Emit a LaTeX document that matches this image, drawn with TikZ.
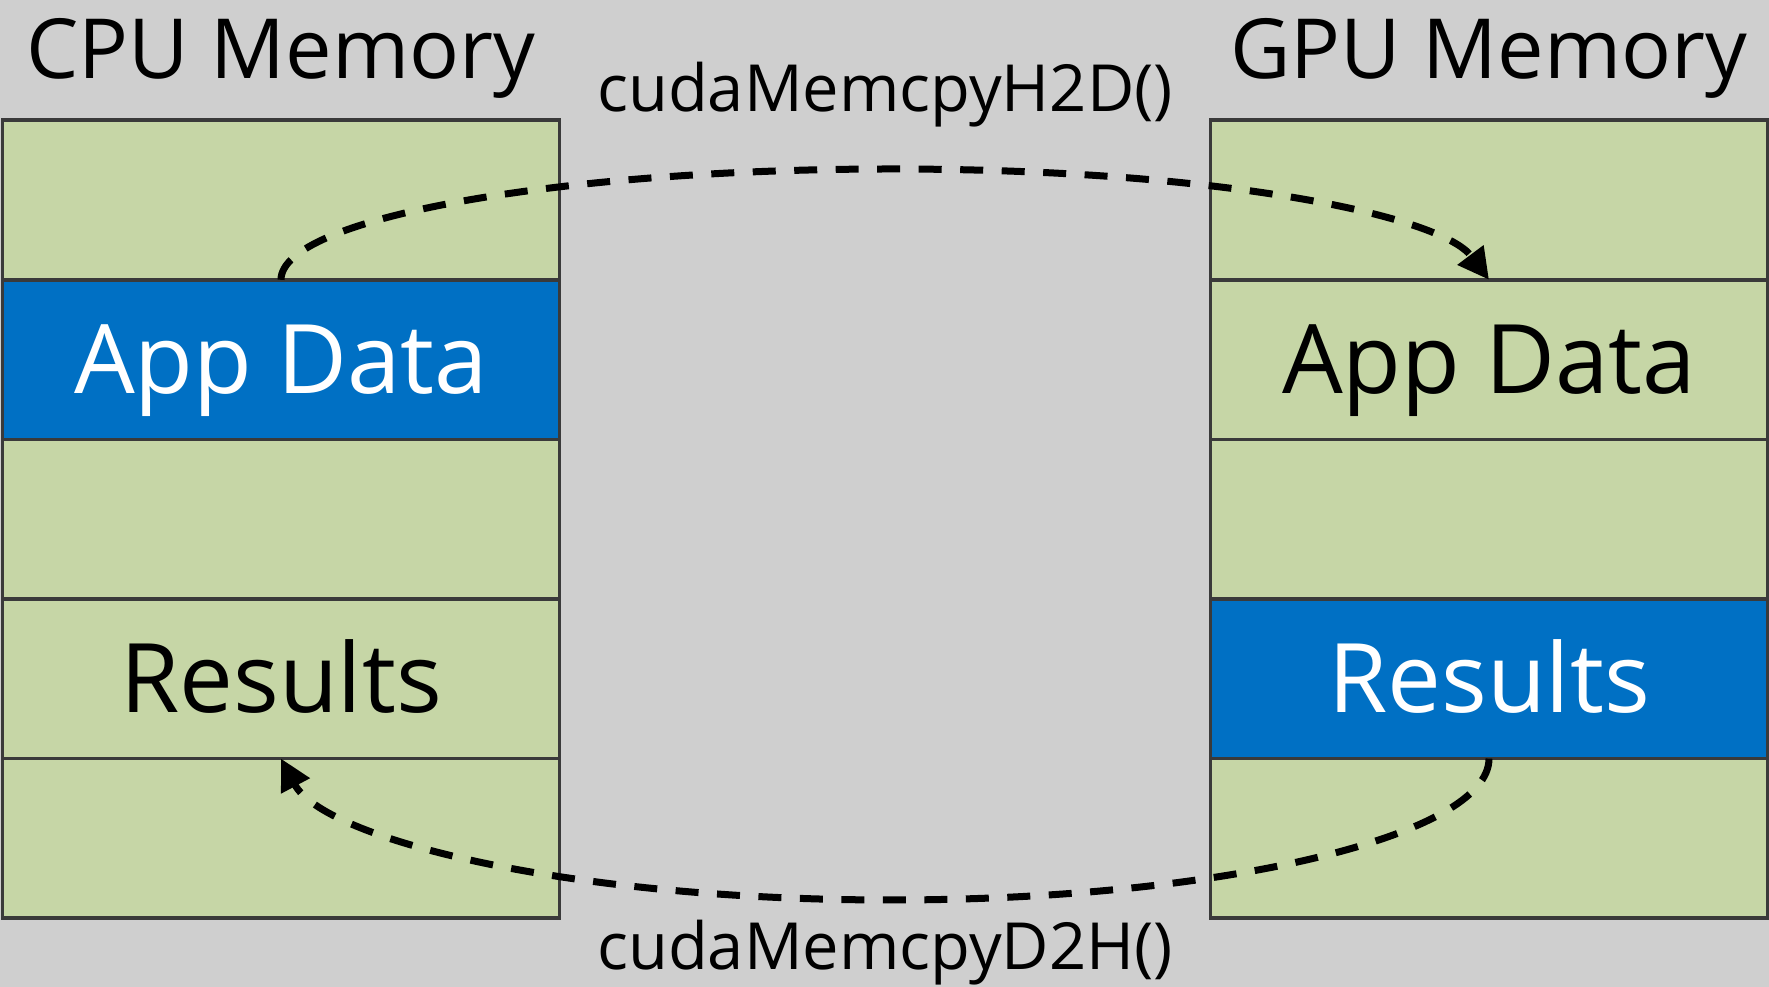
\documentclass[tikz,border=0pt]{standalone}
\usepackage{fontspec}
\setmainfont{Open Sans}
\usetikzlibrary{positioning,arrows.meta}
\definecolor{bggray}{HTML}{CFCFCF}
\definecolor{memgreen}{HTML}{C6D6A6}
\definecolor{appblue}{HTML}{0070C4}
\definecolor{edgegray}{HTML}{3A3A3A}
\begin{document}
\begin{tikzpicture}[x=1pt,y=1pt,
    cell/.style={draw=edgegray,line width=3.5pt,fill=memgreen,minimum width=557pt,minimum height=159.6pt,inner sep=0pt,outer sep=0pt,text height=68pt,text depth=0pt,font=\fontsize{96}{96}\selectfont},
    hot/.style={cell,fill=appblue,text=white},
    title/.style={font=\fontsize{83}{83}\selectfont,inner sep=0pt},
    call/.style={font=\fontsize{65}{65}\selectfont,inner sep=0pt},
    copy/.style={line width=7pt,dash pattern=on 23pt off 18.5pt,-{Triangle[length=31pt,width=31pt]}}]
    \fill[bggray] (0,0) rectangle (1769,987);
    \useasboundingbox (0,0) rectangle (1769,987);

    % host side
    \node[cell] (cpu1) at (281,787) {};
    \node[hot] (cpu2) [below=0pt of cpu1] {App Data};
    \node[cell] (cpu3) [below=0pt of cpu2] {};
    \node[cell] (cpu4) [below=0pt of cpu3] {Results};
    \node[cell] (cpu5) [below=0pt of cpu4] {};
    \node[title] (cpulabel) [above=42pt of cpu1.north,anchor=base] {CPU Memory};

    % device side
    \node[cell] (gpu1) at (1489,787) {};
    \node[cell] (gpu2) [below=0pt of gpu1] {App Data};
    \node[cell] (gpu3) [below=0pt of gpu2] {};
    \node[hot] (gpu4) [below=0pt of gpu3] {Results};
    \node[cell] (gpu5) [below=0pt of gpu4] {};
    \node[title] (gpulabel) [above=42pt of gpu1.north,anchor=base] {GPU Memory};

    % copies
    \coordinate (h2dtop) at (891,818);
    \coordinate (d2hbottom) at (891,87);
    \node[call,anchor=base] (h2dlabel) at ([xshift=-6pt,yshift=57pt]h2dtop) {cudaMemcpyH2D()};
    \node[call,anchor=base] (d2hlabel) at ([xshift=-6pt,yshift=-70pt]d2hbottom) {cudaMemcpyD2H()};

    \draw[copy] (cpu2.north) .. controls +(0,61) and +(-336,0) .. (h2dtop)
        .. controls +(330,0) and +(-48,64) .. (gpu2.north);
    \draw[copy] (gpu4.south) .. controls +(0,-77) and +(331,0) .. (d2hbottom)
        .. controls +(-330,0) and +(42,-79) .. (cpu4.south);
\end{tikzpicture}
\end{document}
